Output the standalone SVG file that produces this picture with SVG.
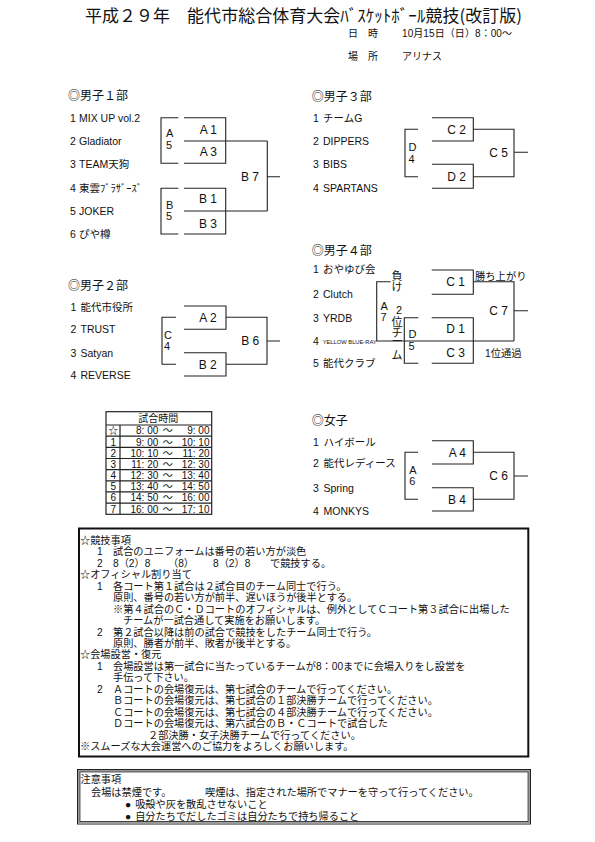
<svg xmlns="http://www.w3.org/2000/svg" width="595" height="842" viewBox="0 0 595 842">
<style>
text { font-family: 'Liberation Sans', 'Noto Sans CJK JP', sans-serif; fill: #111; }
.cjk { font-family: 'Noto Sans CJK JP', 'Noto Sans', sans-serif; }
.ttl { font-size: 17px; }
.hd { font-size: 10px; }
.sec { font-size: 12px; }
.item { font-size: 10.5px; }
.lab { font-size: 12px; text-anchor: end; }
.vl { font-size: 11px; }
.vc { font-size: 11px; text-anchor: middle; }
.tbe { font-size: 10px; text-anchor: end; }
.tbm { font-size: 10px; text-anchor: middle; }
.note { font-size: 10.2px; }
.ln { fill: none; stroke: #222; stroke-width: 1.1; }
.tl { fill: none; stroke: #222; stroke-width: 1.2; }
</style>
<rect width="595" height="842" fill="#fff"/>

<g id="title">
  <text class="ttl cjk" x="85" y="22" textLength="437" lengthAdjust="spacing">平成２９年　能代市総合体育大会ﾊﾞｽｹｯﾄﾎﾞｰﾙ競技(改訂版)</text>
  <text class="hd" x="348" y="37.3">日　時</text>
  <text class="hd" x="402" y="37.3" textLength="110" lengthAdjust="spacing">10月15日（日）8：00～</text>
  <text class="hd" x="348" y="59.5">場　所</text>
  <text class="hd" x="402" y="59.5">アリナス</text>
</g>

<g id="men1">
  <text class="sec" x="68" y="100">◎男子１部</text>
  <text class="item" y="121.7"><tspan x="70">1</tspan><tspan x="79">MIX UP vol.2</tspan></text>
  <text class="item" y="145"><tspan x="70">2</tspan><tspan x="79">Gladiator</tspan></text>
  <text class="item" y="168.3"><tspan x="70">3</tspan><tspan x="79">TEAM天狗</tspan></text>
  <text class="item" y="191.7"><tspan x="70">4</tspan><tspan x="79">東雲ﾌﾞﾗｻﾞｰｽﾞ</tspan></text>
  <text class="item" y="215"><tspan x="70">5</tspan><tspan x="79">JOKER</tspan></text>
  <text class="item" y="238.3"><tspan x="70">6</tspan><tspan x="79">ぴや樽</tspan></text>
  <text class="lab" x="217" y="134.3">A 1</text>
  <text class="lab" x="217" y="156">A 3</text>
  <text class="lab" x="217" y="203.3">B 1</text>
  <text class="lab" x="217" y="227.7">B 3</text>
  <text class="lab" x="259" y="180.7">B 7</text>
  <text class="vl"><tspan x="166" y="137.3">A</tspan><tspan x="166" y="149.3">5</tspan></text>
  <text class="vl"><tspan x="166" y="209.3">B</tspan><tspan x="166" y="220.3">5</tspan></text>
</g>

<g id="men2">
  <text class="sec" x="68" y="289.8">◎男子２部</text>
  <text class="item" y="310.7"><tspan x="70.5">1</tspan><tspan x="80.5">能代市役所</tspan></text>
  <text class="item" y="333.3"><tspan x="70.5">2</tspan><tspan x="80.5">TRUST</tspan></text>
  <text class="item" y="356.7"><tspan x="70.5">3</tspan><tspan x="80.5">Satyan</tspan></text>
  <text class="item" y="379"><tspan x="70.5">4</tspan><tspan x="80.5">REVERSE</tspan></text>
  <text class="lab" x="216.7" y="321.5">A 2</text>
  <text class="lab" x="216.7" y="368.5">B 2</text>
  <text class="lab" x="259.3" y="345.3">B 6</text>
  <text class="vl"><tspan x="164" y="339">C</tspan><tspan x="164" y="350">4</tspan></text>
</g>

<g id="men3">
  <text class="sec" x="311.7" y="101.3">◎男子３部</text>
  <text class="item" y="122.3"><tspan x="313">1</tspan><tspan x="323">チームG</tspan></text>
  <text class="item" y="145"><tspan x="313">2</tspan><tspan x="323">DIPPERS</tspan></text>
  <text class="item" y="168.3"><tspan x="313">3</tspan><tspan x="323">BIBS</tspan></text>
  <text class="item" y="192.3"><tspan x="313">4</tspan><tspan x="323">SPARTANS</tspan></text>
  <text class="lab" x="466" y="133.6">C 2</text>
  <text class="lab" x="466" y="181">D 2</text>
  <text class="lab" x="508" y="156.6">C 5</text>
  <text class="vl"><tspan x="408.5" y="150.5">D</tspan><tspan x="408.5" y="163">4</tspan></text>
</g>

<g id="men4">
  <text class="sec" x="311.7" y="254.6">◎男子４部</text>
  <text class="item" y="273.3"><tspan x="313">1</tspan><tspan x="323">おやゆび会</tspan></text>
  <text class="item" y="298.3"><tspan x="313">2</tspan><tspan x="323">Clutch</tspan></text>
  <text class="item" y="322.3"><tspan x="313">3</tspan><tspan x="323">YRDB</tspan></text>
  <text class="item" x="313" y="345">4</text>
  <text x="322.7" y="343.5" style="font-size:5.6px" textLength="54" lengthAdjust="spacingAndGlyphs">YELLOW BLUE-RAY</text>
  <text class="item" y="367.3"><tspan x="313">5</tspan><tspan x="323">能代クラブ</tspan></text>
  <text class="lab" x="465" y="286">C 1</text>
  <text class="lab" x="465" y="333.3">D 1</text>
  <text class="lab" x="465" y="356.6">C 3</text>
  <text class="lab" x="508" y="315">C 7</text>
  <text class="vc"><tspan x="397" y="279.7">負</tspan><tspan x="397" y="290.7">け</tspan></text>
  <text class="vl"><tspan x="380.5" y="309.7">A</tspan><tspan x="380.5" y="320.7">7</tspan></text>
  <text class="vc"><tspan x="399" y="314">2</tspan><tspan x="397" y="325.7">位</tspan><tspan x="397" y="337.3">チ</tspan><tspan x="397" y="345">ー</tspan><tspan x="397" y="359">ム</tspan></text>
  <text class="vl"><tspan x="408.5" y="338.3">D</tspan><tspan x="408.5" y="349.7">5</tspan></text>
  <text class="item" x="475" y="280.3" style="font-size:10.3px">勝ち上がり</text>
  <text class="item" x="485" y="357" style="font-size:10.3px">1位通過</text>
</g>

<g id="women">
  <text class="sec" x="311.7" y="425.3">◎女子</text>
  <text class="item" y="445.7"><tspan x="313">1</tspan><tspan x="323.5">ハイボール</tspan></text>
  <text class="item" y="467.3"><tspan x="313">2</tspan><tspan x="323.5">能代レディース</tspan></text>
  <text class="item" y="492.3"><tspan x="313">3</tspan><tspan x="323.5">Spring</tspan></text>
  <text class="item" y="515"><tspan x="313">4</tspan><tspan x="323.5">MONKYS</tspan></text>
  <text class="lab" x="466" y="456.6">A 4</text>
  <text class="lab" x="466" y="503.6">B 4</text>
  <text class="lab" x="508" y="480.3">C 6</text>
  <text class="vl"><tspan x="409.3" y="474">A</tspan><tspan x="409.3" y="485">6</tspan></text>
</g>

<g id="connectors">
  <path class="ln" d="M178.3,117.7 H161 V163.3 H178.3"/>
  <path class="ln" d="M184,117.7 H225.7 V163.3 H184 M184,141 H267.3"/>
  <path class="ln" d="M178.3,188.3 H161 V234 H178.3"/>
  <path class="ln" d="M184,188.3 H225.7 V234 H184 M184,211 H267.3"/>
  <path class="ln" d="M267.3,141 V211 M267.3,176.7 H280"/>
  <path class="ln" d="M176,317.3 H162 V364.3 H176"/>
  <path class="ln" d="M184,306 H226 V329.3 H184"/>
  <path class="ln" d="M184,352.7 H226 V376 H184"/>
  <path class="ln" d="M226,317.3 H267 V364.3 H226 M267,341 H280"/>
  <path class="ln" d="M418,129.3 H405 V176.7 H418"/>
  <path class="ln" d="M432,117.7 H473.3 V141 H432"/>
  <path class="ln" d="M432,164.3 H473.3 V188.3 H432"/>
  <path class="ln" d="M473.3,129.3 H514 V176.7 H473.3 M514,152.3 H528"/>
  <path class="ln" d="M390.7,281.7 H376.7 V341 H514"/>
  <path class="ln" d="M431.7,270 H473.3 V294.3 H431.7"/>
  <path class="ln" d="M473.3,281.7 H514 V341 M514,310.7 H528"/>
  <path class="ln" d="M418.3,317.7 H404.3 V363.3 H418.3"/>
  <path class="ln" d="M431.7,317.7 H473.3 V363.3 H431.7"/>
  <path class="ln" d="M418,452.3 H405 V499.3 H418"/>
  <path class="ln" d="M432,440.7 H473.3 V464 H432"/>
  <path class="ln" d="M432,487.7 H473.3 V511 H432"/>
  <path class="ln" d="M473.3,452.3 H514 V499.3 H473.3 M514,476 H528"/>
</g>

<g id="schedule">
  <rect class="tl" x="106" y="411.7" width="105.7" height="102.6"/>
  <path class="tl" d="M106,425 H211.7 M106,436.2 H211.7 M106,447.3 H211.7 M106,458.5 H211.7 M106,469.6 H211.7 M106,480.8 H211.7 M106,491.9 H211.7 M106,503.1 H211.7 M120,425 V514.3"/>
  <text class="tbm" x="158.3" y="421.5">試合時間</text>
  <text class="tbm"><tspan x="113.3" y="434.4">☆</tspan><tspan x="113.3" y="445.6">1</tspan><tspan x="113.3" y="456.7">2</tspan><tspan x="113.3" y="467.9">3</tspan><tspan x="113.3" y="479">4</tspan><tspan x="113.3" y="490.2">5</tspan><tspan x="113.3" y="501.3">6</tspan><tspan x="113.3" y="512.5">7</tspan></text>
  <text class="tbe"><tspan x="158.3" y="434.4">8: 00</tspan><tspan x="158.3" y="445.6">9: 00</tspan><tspan x="158.3" y="456.7">10: 10</tspan><tspan x="158.3" y="467.9">11: 20</tspan><tspan x="158.3" y="479">12: 30</tspan><tspan x="158.3" y="490.2">13: 40</tspan><tspan x="158.3" y="501.3">14: 50</tspan><tspan x="158.3" y="512.5">16: 00</tspan></text>
  <text class="tbm"><tspan x="167.7" y="434.4">～</tspan><tspan x="167.7" y="445.6">～</tspan><tspan x="167.7" y="456.7">～</tspan><tspan x="167.7" y="467.9">～</tspan><tspan x="167.7" y="479">～</tspan><tspan x="167.7" y="490.2">～</tspan><tspan x="167.7" y="501.3">～</tspan><tspan x="167.7" y="512.5">～</tspan></text>
  <text class="tbe"><tspan x="209.5" y="434.4">9: 00</tspan><tspan x="209.5" y="445.6">10: 10</tspan><tspan x="209.5" y="456.7">11: 20</tspan><tspan x="209.5" y="467.9">12: 30</tspan><tspan x="209.5" y="479">13: 40</tspan><tspan x="209.5" y="490.2">14: 50</tspan><tspan x="209.5" y="501.3">16: 00</tspan><tspan x="209.5" y="512.5">17: 10</tspan></text>
</g>

<g id="rules">
  <rect x="79" y="528.5" width="449.3" height="228" fill="none" stroke="#111" stroke-width="2"/>
  <text class="note">
    <tspan x="80" y="543.9">☆競技事項</tspan>
    <tspan x="97" y="555.4">1</tspan><tspan x="113" y="555.4">試合のユニフォームは番号の若い方が淡色</tspan>
    <tspan x="97" y="566.9">2</tspan><tspan x="113" y="566.9">8（2）8</tspan><tspan x="168" y="566.9">（8）</tspan><tspan x="213" y="566.9">8（2）8</tspan><tspan x="270" y="566.9">で競技する。</tspan>
    <tspan x="80" y="578.3">☆オフィシャル割り当て</tspan>
    <tspan x="97" y="589.7">1</tspan><tspan x="113" y="589.7">各コート第１試合は２試合目のチーム同士で行う。</tspan>
    <tspan x="113" y="601.2">原則、番号の若い方が前半、遅いほうが後半とする。</tspan>
    <tspan x="113" y="612.6">※第４試合のＣ・Ｄコートのオフィシャルは、例外としてＣコート第３試合に出場した</tspan>
    <tspan x="123" y="624.1">チームが一試合通して実施をお願いします。</tspan>
    <tspan x="97" y="635.5">2</tspan><tspan x="113" y="635.5">第２試合以降は前の試合で競技をしたチーム同士で行う。</tspan>
    <tspan x="113" y="647">原則、勝者が前半、敗者が後半とする。</tspan>
    <tspan x="80" y="658.4">☆会場設営・復元</tspan>
    <tspan x="97" y="669.9">1</tspan><tspan x="113" y="669.9">会場設営は第一試合に当たっているチームが8：00までに会場入りをし設営を</tspan>
    <tspan x="113" y="681.3">手伝って下さい。</tspan>
    <tspan x="97" y="692.8">2</tspan><tspan x="113" y="692.8">Ａコートの会場復元は、第七試合のチームで行ってください。</tspan>
    <tspan x="113" y="704.2">Ｂコートの会場復元は、第七試合の１部決勝チームで行ってください。</tspan>
    <tspan x="113" y="715.7">Ｃコートの会場復元は、第七試合の４部決勝チームで行ってください。</tspan>
    <tspan x="113" y="727.1">Ｄコートの会場復元は、第六試合のＢ・Ｃコートで試合した</tspan>
    <tspan x="148" y="738.6">２部決勝・女子決勝チームで行ってください。</tspan>
    <tspan x="80" y="750">※スムーズな大会運営へのご協力をよろしくお願いします。</tspan>
  </text>
</g>

<g id="caution">
  <rect x="77.5" y="769.5" width="453" height="54.5" fill="none" stroke="#222" stroke-width="1"/>
  <rect x="78.7" y="770.7" width="450.6" height="52.1" fill="none" stroke="#999" stroke-width="1.4"/>
  <rect x="79.9" y="771.9" width="448.2" height="49.7" fill="none" stroke="#222" stroke-width="0.9"/>
  <text class="note">
    <tspan x="80.5" y="783.2">注意事項</tspan>
    <tspan x="91" y="796">会場は禁煙です。</tspan><tspan x="205" y="796">喫煙は、指定された場所でマナーを守って行ってください。</tspan>
    <tspan x="125" y="808.2">●</tspan><tspan x="135.2" y="808.2">吸殻や灰を散乱させないこと</tspan>
    <tspan x="125" y="819.6">●</tspan><tspan x="135.2" y="819.6">自分たちでだしたゴミは自分たちで持ち帰ること</tspan>
  </text>
</g>
</svg>
